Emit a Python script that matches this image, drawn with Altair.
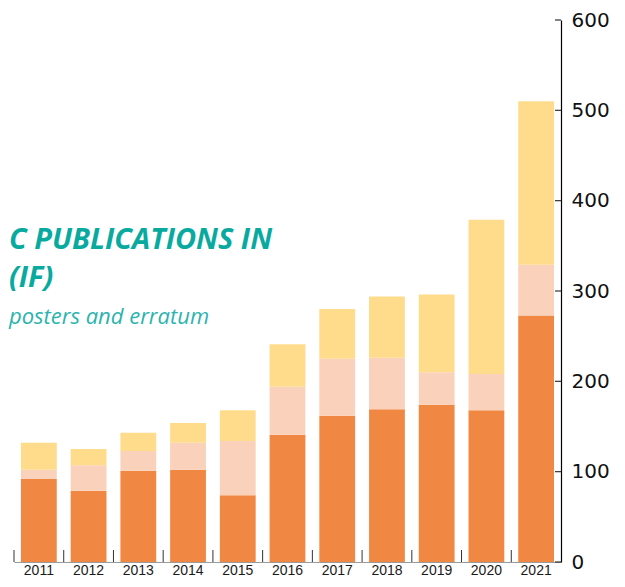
import altair as alt
import pandas as pd

years = ["2011", "2012", "2013", "2014", "2015", "2016", "2017", "2018", "2019", "2020", "2021"]
with_if = [92, 79, 101, 102, 74, 141, 162, 169, 174, 168, 273]
without_if = [10, 28, 22, 30, 60, 53, 63, 57, 36, 40, 56]
posters_erratum = [30, 18, 20, 22, 34, 47, 55, 68, 86, 171, 181]

series_names = ["Publications in journals with IF", "Publications without IF", "Posters and erratum"]
series_colors = ["#F08843", "#FAD1BA", "#FEDC8C"]
y_ticks = [0, 100, 200, 300, 400, 500, 600]

title_line1 = "C PUBLICATIONS IN"
title_line2 = "(IF)"
subtitle = "posters and erratum"

rows = []
for i, y in enumerate(years):
    for k, (name, vals) in enumerate(zip(series_names, [with_if, without_if, posters_erratum])):
        rows.append({"year": y, "series": name, "value": vals[i], "ord": k})
df = pd.DataFrame(rows)

W, H = 547, 542
PAD_TOP = 12

x_scale = alt.Scale(domain=years, paddingInner=0, paddingOuter=0)
y_scale = alt.Scale(domain=[0, 600], nice=False)

x_axis = alt.Axis(ticks=False, domainColor="#9a9a9a", domainWidth=1,
                  labelFont="Liberation Sans", labelFontSize=14, labelColor="#1a1a1a",
                  labelPadding=1, labelAngle=0, title=None)
y_axis = alt.Axis(orient="right", values=y_ticks, ticks=False, grid=False,
                  domainColor="#000000", domainWidth=1.2,
                  labelFont="DejaVu Sans", labelFontSize=20, labelColor="#111111",
                  labelPadding=10, title=None)

bars = alt.Chart(df).mark_bar(width=alt.RelativeBandSize(0.72)).encode(
    x=alt.X("year:N", scale=x_scale, sort=years, title=None, axis=x_axis),
    y=alt.Y("value:Q", stack="zero", scale=y_scale, title=None, axis=y_axis),
    color=alt.Color("series:N", scale=alt.Scale(domain=series_names, range=series_colors), legend=None),
    order=alt.Order("ord:Q", sort="ascending"),
)

x_tick_df = pd.DataFrame({"year": years})
x_ticks = alt.Chart(x_tick_df).mark_rule(color="#333333", strokeWidth=1).encode(
    x=alt.X("year:N", scale=x_scale, sort=years, bandPosition=0, title=None, axis=x_axis),
    y=alt.value(H - 12),
    y2=alt.value(H),
)

y_tick_df = pd.DataFrame({"value": y_ticks})
y_tick_marks = alt.Chart(y_tick_df).mark_rule(color="#333333", strokeWidth=1.2).encode(
    y=alt.Y("value:Q", scale=y_scale, title=None, axis=y_axis),
    x=alt.value(W - 6),
    x2=alt.value(W),
)

# text baselines given in page pixels, converted to plot coordinates
def page_y(py):
    return py - 8 - PAD_TOP

t1 = alt.Chart(pd.DataFrame({"t": [title_line1]})).mark_text(
    align="left", baseline="alphabetic", font="Open Sans", fontSize=29,
    fontWeight="bold", fontStyle="italic", color="#08AAA0"
).encode(text="t:N", x=alt.value(-5), y=alt.value(page_y(249)))

t2 = alt.Chart(pd.DataFrame({"t": [title_line2]})).mark_text(
    align="left", baseline="alphabetic", font="Open Sans", fontSize=29,
    fontWeight="bold", fontStyle="italic", color="#08AAA0"
).encode(text="t:N", x=alt.value(-5), y=alt.value(page_y(287)))

t3 = alt.Chart(pd.DataFrame({"t": [subtitle]})).mark_text(
    align="left", baseline="alphabetic", font="Open Sans", fontSize=22,
    fontStyle="italic", color="#2BB4AE"
).encode(text="t:N", x=alt.value(-5), y=alt.value(page_y(324)))

chart = alt.layer(bars, x_ticks, y_tick_marks, t1, t2, t3).properties(
    width=W, height=H,
    autosize=alt.AutoSizeParams(type="none"),
    padding={"left": 6, "top": PAD_TOP, "right": 56, "bottom": 571 - PAD_TOP - H},
).configure_view(stroke=None)

chart.save("out.html", embed_options={"renderer": "svg", "actions": False})
